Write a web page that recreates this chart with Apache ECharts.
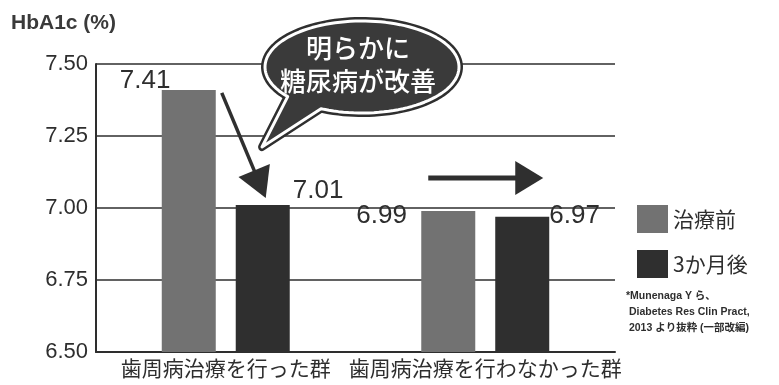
<!DOCTYPE html>
<html><head><meta charset="utf-8">
<script src="https://cdn.jsdelivr.net/npm/echarts@6/dist/echarts.min.js"></script>
<style>html,body{margin:0;padding:0;background:#fff}#c{width:779px;height:385px}</style>
</head><body><div id="c"></div>
<script>
var categories = ['歯周病治療を行った群', '歯周病治療を行わなかった群'];
var seriesNames = ['治療前', '3か月後'];
var beforeValues = [7.41, 6.99];
var afterValues = [7.01, 6.97];
var yTicks = [6.50, 6.75, 7.00, 7.25, 7.50];

var FONT = '"Liberation Sans", "Noto Sans CJK JP", sans-serif';
var JP = '"Noto Sans CJK JP", "Liberation Sans", sans-serif';
var TXT = '#2e2e2e';
var GRAY = '#727272';
var DARK = '#2f2f2f';

// label offsets (relative to each bar's top-left corner)
var beforeLabelPos = [[-42, -22], [-65, -8]];
var afterLabelPos = [[57, -27], [54, -14]];

function mk(vals, pos) {
  return vals.map(function (v, i) {
    return { value: v, label: { position: pos[i] } };
  });
}

var chart = echarts.init(document.getElementById('c'), null, { renderer: 'canvas' });
var labelStyle = { show: true, fontSize: 26, color: TXT, fontFamily: FONT,
  formatter: function (p) { return p.value.toFixed(2); } };

chart.setOption({
  animation: false,
  backgroundColor: '#fff',
  title: { text: 'HbA1c (%)', left: 6, top: 8,
    textStyle: { fontSize: 21, fontWeight: 'bold', color: '#3a3a3a', fontFamily: FONT } },
  grid: { left: 96, top: 64, right: 164, bottom: 33 },
  legend: {
    orient: 'vertical', left: 632, top: 200, itemWidth: 31, itemHeight: 28, itemGap: 17,
    icon: 'rect', data: seriesNames,
    textStyle: { fontSize: 21, color: TXT, fontFamily: JP, padding: [0, 0, 0, 0] }
  },
  xAxis: {
    type: 'category', data: categories,
    axisLine: { lineStyle: { color: TXT, width: 2 } },
    axisTick: { show: false },
    axisLabel: { interval: 0, fontSize: 21, color: TXT, fontFamily: JP, margin: 6 }
  },
  yAxis: {
    type: 'value', min: 6.5, max: 7.5, interval: 0.25,
    axisLine: { show: true, lineStyle: { color: TXT, width: 2 } },
    axisTick: { show: false },
    axisLabel: { fontSize: 22, color: TXT, fontFamily: FONT, margin: 8,
      formatter: function (v) { return v.toFixed(2); } },
    splitLine: { lineStyle: { color: TXT, width: 1.5 } }
  },
  series: [
    { name: seriesNames[0], type: 'bar', data: mk(beforeValues, beforeLabelPos), barWidth: 54, barGap: '37%',
      itemStyle: { color: GRAY }, label: labelStyle },
    { name: seriesNames[1], type: 'bar', data: mk(afterValues, afterLabelPos), barWidth: 54,
      itemStyle: { color: DARK }, label: labelStyle }
  ]
});

// ---- annotations anchored to bar layouts ----
function lay(s, i) { return chart.getModel().getSeriesByIndex(s).getData().getItemLayout(i); }
var b0 = lay(0, 0), a0 = lay(1, 0), b1 = lay(0, 1), a1 = lay(1, 1);
var g = [];

// diagonal arrow (group 1)
var topB0 = Math.min(b0.y, b0.y + b0.height);
var topA0 = Math.min(a0.y, a0.y + a0.height);
var sx = b0.x + b0.width + 6, sy = topB0 + 3;
var tx = a0.x + a0.width / 2 + 3, ty = topA0 - 7;
var dx = tx - sx, dy = ty - sy, L = Math.sqrt(dx * dx + dy * dy), ux = dx / L, uy = dy / L;
var hl = 30, hw = 17;
var bx = tx - ux * hl, by = ty - uy * hl;
g.push({ type: 'line', shape: { x1: sx, y1: sy, x2: bx + ux * 4, y2: by + uy * 4 }, style: { stroke: DARK, lineWidth: 3.5 } });
g.push({ type: 'polygon', shape: { points: [[tx, ty], [bx - uy * hw, by + ux * hw], [bx + uy * hw, by - ux * hw]] }, style: { fill: DARK } });

// horizontal arrow (group 2)
var topB1 = Math.min(b1.y, b1.y + b1.height);
var ay = topB1 - 33;
var ax1 = b1.x + 7, ax2 = a1.x + a1.width - 6;
g.push({ type: 'line', shape: { x1: ax1, y1: ay, x2: ax2 - 26, y2: ay }, style: { stroke: DARK, lineWidth: 5 } });
g.push({ type: 'polygon', shape: { points: [[ax2, ay], [ax2 - 28, ay - 17], [ax2 - 28, ay + 17]] }, style: { fill: DARK } });

// speech bubble
var cx = 362, cy = 67, rx = 97, ry = 46;
var pts = [];
var aStart = 115, aEnd = 140;
for (var d = aEnd; d <= 360 + aStart; d += 3) {
  var r = d * Math.PI / 180;
  pts.push([cx + rx * Math.cos(r), cy + ry * Math.sin(r)]);
}
pts.push([cx + rx * Math.cos(aStart * Math.PI / 180), cy + ry * Math.sin(aStart * Math.PI / 180)]);
pts.push([262, 147]);
g.push({ type: 'polygon', shape: { points: pts }, style: { fill: DARK, stroke: DARK, lineWidth: 8, lineJoin: 'round' }, z: 10 });
g.push({ type: 'polygon', shape: { points: pts }, style: { fill: '#3a3a3a', stroke: '#fff', lineWidth: 3, lineJoin: 'round' }, z: 11 });
g.push({ type: 'text', x: cx - 4, y: cy - 2, z: 12,
  style: { text: '明らかに\n糖尿病が改善', fill: '#fff', fontSize: 26, fontWeight: 500, fontFamily: JP,
    align: 'center', verticalAlign: 'middle', lineHeight: 33 } });

// footnote
g.push({ type: 'text', left: 626, top: 288,
  style: { text: '*Munenaga Y ら、\n Diabetes Res Clin Pract,\n 2013 より抜粋 (一部改編)', fill: TXT,
    fontSize: 10.5, fontWeight: 'bold', fontFamily: FONT, lineHeight: 16 } });

chart.setOption({ graphic: g });
</script></body></html>
